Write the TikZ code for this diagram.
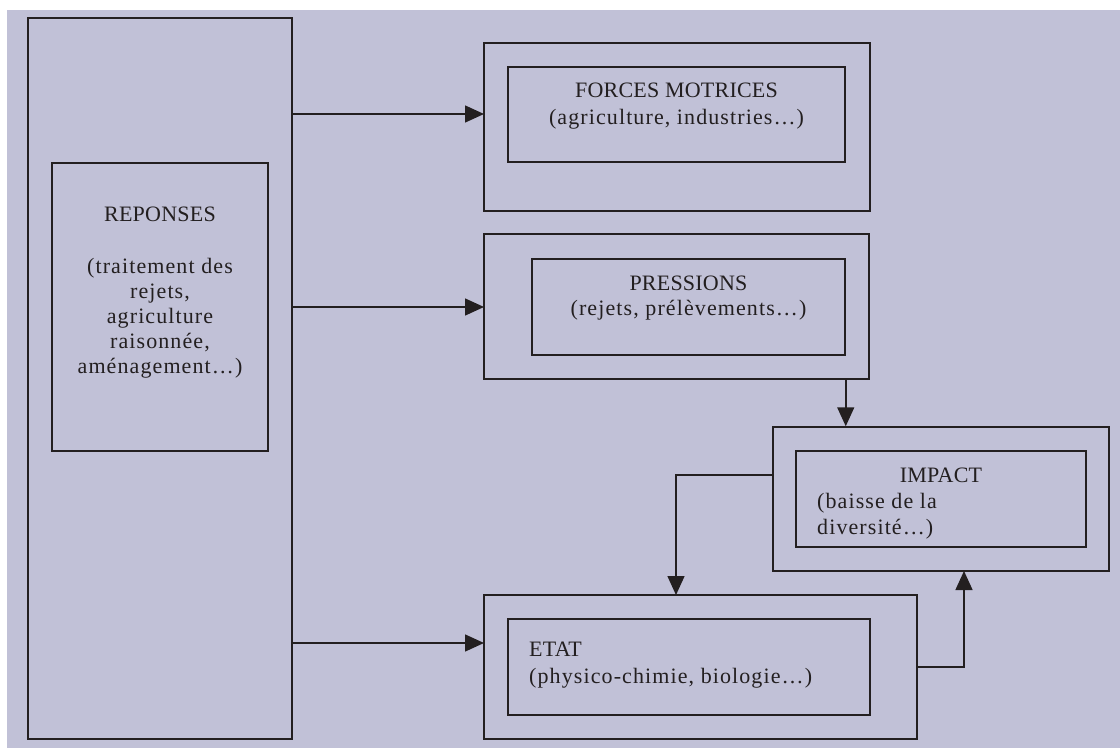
\documentclass[tikz,border=0pt]{standalone}
\usepackage{fontspec}
\setmainfont{Liberation Serif}
\newfontfamily\titre{Liberation Serif}[LetterSpace=1]
\newfontfamily\detail{Liberation Serif}[LetterSpace=5]
\usetikzlibrary{arrows.meta}
\definecolor{fond}{RGB}{193,193,215}
\definecolor{trait}{RGB}{35,31,32}
\begin{document}
\begin{tikzpicture}[x=1pt,y=-1pt,
  boite/.style={draw=trait,line width=1.5pt,inner sep=0pt},
  texte/.style={text=trait,inner sep=0pt,font=\fontsize{22}{26}\selectfont},
  fleche/.style={draw=trait,line width=1.5pt,-{Triangle[length=19pt,width=17pt]}}]
\useasboundingbox (0,0) rectangle (1120,749);
% 背景
\fill[fond] (7,10) rectangle (1120,748);

% 対応
\node[boite,minimum width=264pt,minimum height=721pt] (re) at (160,378.5) {};
\node[boite,minimum width=216pt,minimum height=288pt] (re-in) at (160,307) {};
\node[texte,font=\fontsize{22}{25}\selectfont,anchor=base,align=center] (re-t) at (160,373)
  {{\titre REPONSES}\\[27pt]\detail(traitement des\\\detail rejets,\\\detail agriculture\\\detail raisonnée,\\\detail aménagement…)};

% 駆動力
\node[boite,minimum width=386pt,minimum height=168pt] (fo) at (677,127) {};
\node[boite,minimum width=337pt,minimum height=95pt] (fo-in) at (676.5,114.5) {};
\node[texte,anchor=base,align=center] (fo-t) at (676.5,125)
  {{\titre FORCES MOTRICES}\\[2pt]\detail(agriculture, industries…)};

% 圧力
\node[boite,minimum width=385pt,minimum height=145pt] (pr) at (676.5,306.5) {};
\node[boite,minimum width=313pt,minimum height=96pt] (pr-in) at (688.5,307) {};
\node[texte,anchor=base,align=center] (pr-t) at (688.5,315)
  {{\titre PRESSIONS}\\[-1pt]\detail(rejets, prélèvements…)};

% 影響
\node[boite,minimum width=336pt,minimum height=144pt] (im) at (941,499) {};
\node[boite,minimum width=290pt,minimum height=96pt] (im-in) at (941,499) {};
\node[texte,anchor=base] (im-t) at (941,482) {\titre IMPACT};
\node[texte,anchor=base west,align=left] (im-d) at (817,534)
  {\detail(baisse de la\\\detail diversité…)};

% 状態
\node[boite,minimum width=433pt,minimum height=144pt] (et) at (700.5,667) {};
\node[boite,minimum width=362pt,minimum height=96pt] (et-in) at (689,667) {};
\node[texte,anchor=base west,align=left] (et-t) at (529,683)
  {{\titre ETAT}\\[1pt]\detail(physico-chimie, biologie…)};

% 矢印
\coordinate (fo-g) at (484,114);
\coordinate (pr-g) at (484,307);
\coordinate (et-g) at (484,643);
\coordinate (im-g) at (773,475);
\coordinate (et-h) at (676,595);
\coordinate (im-b) at (964,571);
\draw[fleche] (re.east |- fo-g) -- (fo-g);
\draw[fleche] (re.east |- pr-g) -- (pr-g);
\draw[fleche] (re.east |- et-g) -- (et-g);
\draw[fleche] (pr-in.east |- pr.south) -- (pr-in.east |- im.north);
\draw[fleche] (im-g) -| (et-h);
\draw[fleche] (et.east) -| (im-b);
\end{tikzpicture}
\end{document}
